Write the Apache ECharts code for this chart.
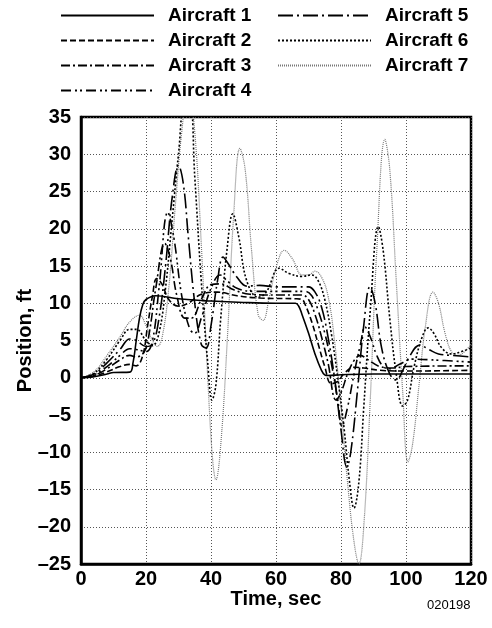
<!DOCTYPE html>
<html>
<head>
<meta charset="utf-8">
<script src="https://cdn.jsdelivr.net/npm/echarts@6/dist/echarts.min.js"></script>
<style>
  html, body { margin: 0; padding: 0; background: #fff; }
  #chart { width: 492px; height: 628px; }
</style>
</head>
<body>
<div id="chart"></div>
<script>
// Position histories [time (sec), position (ft)] for each aircraft in the string
const aircraft1 = [[0,0],[4,0.15],[8,0.5],[10,0.7],[15,0.75],[16,2],[17,5],[18,8],[19,9.8],[20,10.5],[23,11],[30,10.6],[40,10.3],[50,10.1],[60,10.0],[66,10.0],[67,9.6],[68,8.5],[70,6],[72,3.2],[74,1],[75,0.4],[76,0.3],[80,0.4],[90,0.5],[120,0.5]];
const aircraft2 = [[0,0],[4,0.2],[8,0.8],[12,1.5],[15,1.8],[17,1.6],[19,3],[20.5,7],[22,11],[23.3,13.3],[25,12.5],[27,10.5],[30,9.6],[33,10],[37,11.2],[42,11.5],[48,11],[55,10.7],[66,10.6],[68,10.5],[69,9.8],[71,7.5],[73,4.5],[75,1.5],[77,-0.8],[79,-0.5],[81,0.6],[84,1.4],[87,1.3],[92,1.0],[100,0.9],[120,1.0]];
const aircraft3 = [[0,0],[4,0.3],[8,1.2],[12,2.4],[15,3.0],[17,2.8],[19.5,3.5],[21,6],[23,12],[25.8,18],[27.5,16],[29.5,11],[32,8],[34,8],[37,10.5],[40,12.5],[43,12.6],[47,11.8],[52,11.2],[60,11.1],[68,11.1],[70,10.5],[72,8.5],[74,5.5],[76,2],[78.5,-3],[80,-2],[82,0.5],[84,2.3],[86,3],[88,2.5],[92,1.5],[96,1.3],[100,1.5],[120,1.6]];
const aircraft4 = [[0,0],[4,0.4],[8,1.5],[12,3.0],[15,3.9],[17,3.8],[20,3.5],[22,5],[24,12],[26.7,22.2],[28.5,19],[31,11],[33.5,6.5],[35,6],[37,8],[40,12],[42.8,13.8],[45,13],[48,12],[53,11.6],[60,11.6],[69,11.6],[71,11],[73,9],[75,6],[77,2],[79,-3],[80.3,-6.5],[82,-4],[84,0.5],[86,4.5],[87.4,6.8],[89,5.5],[91,3],[93,1.5],[95,1.2],[98,1.8],[102,2.5],[108,2.4],[120,2.1]];
const aircraft5 = [[0,0],[4,0.5],[8,2],[12,3.8],[15,5.2],[17,5],[20,4.2],[22,4.5],[24,8],[26,15],[28,24],[30,28.5],[31.5,26],[33,19],[35,10],[37,4.5],[38.5,4],[40,7],[42,13],[43.7,16.2],[45,15.5],[48,13.5],[51,12.3],[55,12.4],[60,12.2],[70,12.2],[72,11.5],[74,9.5],[76,5.5],[78,0],[80,-7],[81.8,-12],[83,-10],[85,-2],[87,7],[88.9,12.2],[90.5,10],[92.5,4],[95,0.5],[97,-0.3],[99,1],[101,2.8],[104.3,4.4],[107,3.8],[110,3.2],[114,3.0],[120,2.8]];
const aircraft6 = [[0,0],[4,0.6],[8,2.5],[12,5],[15,6.5],[17,6.5],[20,5],[22,4.3],[24,6],[26,12],[28,21],[30,30],[32,37],[33.5,37],[35,27],[37,13],[39,2],[40.3,-3],[41.5,-1],[43,8],[45,17.5],[46.7,22],[48.5,19],[51,13],[54.5,10.8],[57,11.5],[61,14.7],[64,14],[68,13.6],[71,13.8],[73,13],[75,10.5],[77,6],[79,0],[81,-7],[82.5,-13.5],[84,-17.5],[85.5,-14],[87,-4],[89,9],[91.5,20.3],[93,17],[95,8],[97,0.5],[99,-3.8],[100.5,-3],[102.5,1.5],[105,5.5],[106.8,6.7],[108.5,6],[111,4],[114,3.2],[117,3.5],[120,4]];
const aircraft7 = [[0,0],[4,0.8],[8,3],[12,5.5],[15,7.5],[18,8.4],[20,7],[22,5],[23.5,4.2],[25,5.5],[27,12],[29,23],[31,33],[33,39],[35,33],[37,18],[39,0],[40.5,-11],[41.5,-13.7],[43,-9],[45,5],[47,22],[48.9,30.8],[50.5,28],[52.5,17],[54.5,8.5],[56,7.7],[58,11],[60.5,15.5],[62.5,17.1],[65,16],[68,13.8],[70,13.8],[72,14.3],[74,13.5],[76,11],[78,5],[80,-4],[82,-14],[84,-22],[85.5,-25],[87,-20],[89,-3],[91,17],[93.5,32],[95,28],[97,13],[99,-2],[100.6,-11.3],[102,-9],[104,-1],[106,7],[108.3,11.5],[110,10],[112,6],[114,3.5],[116,3],[118,3.5],[120,4.5]];

const seriesNames = ['Aircraft 1','Aircraft 2','Aircraft 3','Aircraft 4','Aircraft 5','Aircraft 6','Aircraft 7'];
const seriesData = [aircraft1, aircraft2, aircraft3, aircraft4, aircraft5, aircraft6, aircraft7];

// Stroke appearance per aircraft: solid, dashed, dash-dot, dash-dot-dot, long dash-dot, dotted, fine grey dots
const strokes = [
  { type: 'solid', width: 1.6, color: '#000' },
  { type: [6, 3], width: 1.6, color: '#000' },
  { type: [9, 3, 2, 3], width: 1.6, color: '#000' },
  { type: [10, 4, 2, 3, 2, 4], width: 1.6, color: '#000' },
  { type: [15, 4, 2, 4], width: 1.6, color: '#000' },
  { type: [2, 2], width: 1.6, color: '#000' },
  { type: [1, 1], width: 1.2, color: '#777' }
];

const boldFont = 'Liberation Sans, Arial, Helvetica, sans-serif';

const chart = echarts.init(document.getElementById('chart'), null, { renderer: 'canvas' });

const legendCommon = {
  orient: 'vertical',
  itemWidth: 93,
  itemHeight: 14,
  itemGap: 6,
  itemStyle: { opacity: 0 },
  textStyle: { fontFamily: boldFont, fontWeight: 'bold', fontSize: 19, color: '#000', padding: [0, 0, 0, 9] },
  selectedMode: false
};

chart.setOption({
  animation: false,
  backgroundColor: '#fff',
  legend: [
    Object.assign({}, legendCommon, { left: 55, top: 1, data: seriesNames.slice(0, 4) }),
    Object.assign({}, legendCommon, { left: 272, top: 1, data: seriesNames.slice(4) })
  ],
  grid: {
    left: 81, right: 21, top: 117, bottom: 64,
    show: true, borderColor: '#000', borderWidth: 2.5, backgroundColor: 'transparent'
  },
  xAxis: {
    type: 'value', min: 0, max: 120, interval: 20,
    name: 'Time, sec', nameLocation: 'middle', nameGap: 25, nameMoveOverlap: false,
    nameTextStyle: { fontFamily: boldFont, fontWeight: 'bold', fontSize: 20, color: '#000', verticalAlign: 'top' },
    axisLine: { show: true, onZero: false, lineStyle: { color: '#000', width: 2.5 } },
    axisTick: { show: false },
    axisLabel: { fontFamily: boldFont, fontWeight: 'bold', fontSize: 20, color: '#000', margin: 5 },
    splitLine: { show: true, lineStyle: { color: '#555', width: 1, type: [1, 2] } }
  },
  yAxis: {
    type: 'value', min: -25, max: 35, interval: 5,
    name: 'Position, ft', nameLocation: 'middle', nameGap: 46, nameMoveOverlap: false,
    nameTextStyle: { fontFamily: boldFont, fontWeight: 'bold', fontSize: 20, color: '#000' },
    axisLine: { show: true, onZero: false, lineStyle: { color: '#000', width: 2.5 } },
    axisTick: { show: false },
    axisLabel: {
      fontFamily: boldFont, fontWeight: 'bold', fontSize: 20, color: '#000', margin: 10,
      formatter: v => (v < 0 ? '\u2013' + Math.abs(v) : String(v))
    },
    splitLine: { show: true, lineStyle: { color: '#555', width: 1, type: [1, 2] } }
  },
  graphic: [
    { type: 'text', left: 427, top: 599,
      style: { text: '020198', fontFamily: boldFont, fontSize: 13, fill: '#000' } }
  ],
  series: seriesNames.map((name, i) => ({
    name,
    type: 'line',
    data: seriesData[i],
    smooth: 0.4,
    symbol: 'none',
    clip: true,
    color: strokes[i].color,
    lineStyle: { type: strokes[i].type, width: strokes[i].width, color: strokes[i].color },
    z: 10 - i
  }))
});
</script>
</body>
</html>
